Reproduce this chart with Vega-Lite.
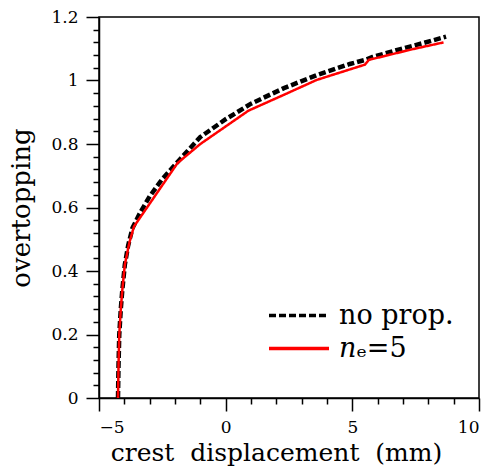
{
  "$schema": "https://vega.github.io/schema/vega-lite/v6.json",
  "width": 380,
  "height": 381,
  "autosize": {"type": "none"},
  "padding": {"left": 99, "top": 17, "right": 13, "bottom": 71},
  "background": "white",
  "config": {
    "view": {"stroke": "black", "strokeWidth": 1.5},
    "axis": {
      "domainColor": "black",
      "domainWidth": 1.5,
      "tickColor": "black",
      "tickWidth": 1.5,
      "grid": false,
      "labelFont": "DejaVu Serif",
      "labelFontSize": 17,
      "labelColor": "black",
      "titleFont": "DejaVu Serif",
      "titleFontSize": 25,
      "titleFontWeight": "normal",
      "titleColor": "black"
    },
    "legend": {
      "labelFont": "DejaVu Serif",
      "labelFontSize": 27,
      "labelColor": "black"
    }
  },
  "data": {
    "values": [
      {"series": "no prop.", "i": 0, "x": -4.25, "y": 0.0},
      {"series": "no prop.", "i": 1, "x": -4.23, "y": 0.1},
      {"series": "no prop.", "i": 2, "x": -4.2, "y": 0.2},
      {"series": "no prop.", "i": 3, "x": -4.14, "y": 0.28},
      {"series": "no prop.", "i": 4, "x": -4.08, "y": 0.34},
      {"series": "no prop.", "i": 5, "x": -3.98, "y": 0.42},
      {"series": "no prop.", "i": 6, "x": -3.85, "y": 0.48},
      {"series": "no prop.", "i": 7, "x": -3.68, "y": 0.535},
      {"series": "no prop.", "i": 8, "x": -3.4, "y": 0.58},
      {"series": "no prop.", "i": 9, "x": -3.0, "y": 0.635},
      {"series": "no prop.", "i": 10, "x": -2.5, "y": 0.69},
      {"series": "no prop.", "i": 11, "x": -1.8, "y": 0.752},
      {"series": "no prop.", "i": 12, "x": -1.0, "y": 0.822},
      {"series": "no prop.", "i": 13, "x": 0.0, "y": 0.878},
      {"series": "no prop.", "i": 14, "x": 1.0, "y": 0.927},
      {"series": "no prop.", "i": 15, "x": 2.3, "y": 0.976},
      {"series": "no prop.", "i": 16, "x": 3.6, "y": 1.017},
      {"series": "no prop.", "i": 17, "x": 4.9, "y": 1.052},
      {"series": "no prop.", "i": 18, "x": 5.55, "y": 1.066},
      {"series": "no prop.", "i": 19, "x": 5.8, "y": 1.074},
      {"series": "no prop.", "i": 20, "x": 6.9, "y": 1.099},
      {"series": "no prop.", "i": 21, "x": 7.8, "y": 1.118},
      {"series": "no prop.", "i": 22, "x": 8.7, "y": 1.138},
      {"series": "𝑛ₑ=5", "i": 0, "x": -4.25, "y": 0.0},
      {"series": "𝑛ₑ=5", "i": 1, "x": -4.23, "y": 0.1},
      {"series": "𝑛ₑ=5", "i": 2, "x": -4.2, "y": 0.2},
      {"series": "𝑛ₑ=5", "i": 3, "x": -4.14, "y": 0.28},
      {"series": "𝑛ₑ=5", "i": 4, "x": -4.08, "y": 0.34},
      {"series": "𝑛ₑ=5", "i": 5, "x": -3.98, "y": 0.42},
      {"series": "𝑛ₑ=5", "i": 6, "x": -3.8, "y": 0.49},
      {"series": "𝑛ₑ=5", "i": 7, "x": -3.62, "y": 0.54},
      {"series": "𝑛ₑ=5", "i": 8, "x": -1.9, "y": 0.74},
      {"series": "𝑛ₑ=5", "i": 9, "x": -1.0, "y": 0.8},
      {"series": "𝑛ₑ=5", "i": 10, "x": 0.9, "y": 0.905},
      {"series": "𝑛ₑ=5", "i": 11, "x": 2.3, "y": 0.955},
      {"series": "𝑛ₑ=5", "i": 12, "x": 3.6, "y": 1.002},
      {"series": "𝑛ₑ=5", "i": 13, "x": 5.5, "y": 1.05},
      {"series": "𝑛ₑ=5", "i": 14, "x": 5.65, "y": 1.065},
      {"series": "𝑛ₑ=5", "i": 15, "x": 7.4, "y": 1.099},
      {"series": "𝑛ₑ=5", "i": 16, "x": 8.6, "y": 1.12}
    ]
  },
  "encoding": {
    "x": {
      "field": "x",
      "type": "quantitative",
      "scale": {"domain": [-5, 10], "nice": false, "zero": false},
      "title": "crest\u00a0\u00a0displacement\u00a0\u00a0(mm)",
      "axis": {
        "values": [-5, -4, -3, -2, -1, 0, 1, 2, 3, 4, 5, 6, 7, 8, 9, 10],
        "format": "~f",
        "labelExpr": "datum.value % 5 === 0 ? datum.label : ''",
        "tickSize": {"condition": {"test": "datum.value % 5 === 0", "value": 13}, "value": 6},
        "labelPadding": 8,
        "titlePadding": 5,
        "titleX": 177
      }
    },
    "y": {
      "field": "y",
      "type": "quantitative",
      "scale": {"domain": [0, 1.2], "nice": false, "zero": false},
      "title": "overtopping",
      "axis": {
        "values": [0, 0.04, 0.08, 0.12, 0.16, 0.2, 0.24, 0.28, 0.32, 0.36, 0.4, 0.44, 0.48, 0.52, 0.56, 0.6, 0.64, 0.68, 0.72, 0.76, 0.8, 0.84, 0.88, 0.92, 0.96, 1.0, 1.04, 1.08, 1.12, 1.16, 1.2],
        "format": "~f",
        "labelExpr": "abs(datum.value*5 - round(datum.value*5)) < 1e-6 ? datum.label : ''",
        "tickSize": {"condition": {"test": "abs(datum.value*5 - round(datum.value*5)) < 1e-6", "value": 13}, "value": 6},
        "labelPadding": 8,
        "titlePadding": 16,
        "titleFontSize": 26
      }
    },
    "color": {
      "field": "series",
      "type": "nominal",
      "scale": {"domain": ["no prop.", "𝑛ₑ=5"], "range": ["black", "#ff0000"]},
      "legend": {
        "title": null,
        "orient": "none",
        "legendX": 168,
        "legendY": 282,
        "symbolType": "stroke",
        "symbolSize": 3600,
        "symbolStrokeWidth": 3.5,
        "labelOffset": 8,
        "rowPadding": 0,
        "clipHeight": 33
      }
    },
    "strokeDash": {
      "field": "series",
      "type": "nominal",
      "scale": {"domain": ["no prop.", "𝑛ₑ=5"], "range": [[7, 3], [1, 0]]},
      "legend": {
        "title": null,
        "orient": "none",
        "legendX": 168,
        "legendY": 282,
        "symbolType": "stroke",
        "symbolSize": 3600,
        "symbolStrokeWidth": 3.5,
        "labelOffset": 8,
        "rowPadding": 0,
        "clipHeight": 33
      }
    },
    "order": {"field": "i"}
  },
  "layer": [
    {
      "transform": [{"filter": "datum.series === 'no prop.'"}],
      "mark": {"type": "line", "strokeWidth": 4.5}
    },
    {
      "transform": [{"filter": "datum.series !== 'no prop.'"}],
      "mark": {"type": "line", "strokeWidth": 2.5}
    }
  ]
}
